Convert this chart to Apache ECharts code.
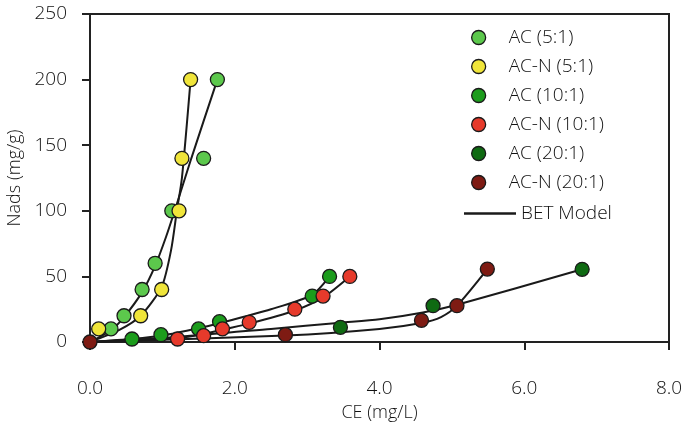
<!DOCTYPE html>
<html>
<head>
<meta charset="utf-8">
<script src="https://cdn.jsdelivr.net/npm/echarts@6/dist/echarts.min.js"></script>
<style>html,body{margin:0;padding:0;background:#fff}#c{width:685px;height:422px}</style>
</head>
<body>
<div id="c"></div>
<script>
// Measured points [CE (mg/L), Nads (mg/g)]
const ac5 = [[0.29,10],[0.47,20],[0.72,40],[0.90,60],[1.13,100],[1.57,140],[1.76,200]];
const acn5 = [[0.12,10],[0.70,20],[0.99,40],[1.23,100],[1.27,140],[1.39,200]];
const ac10 = [[0.58,2.3],[0.98,5.6],[1.50,10],[1.79,15.5],[3.07,35],[3.31,50]];
const acn10 = [[1.21,2.3],[1.57,4.8],[1.83,10],[2.20,15],[2.83,25],[3.22,35],[3.59,50]];
const ac20 = [[3.46,11.2],[4.74,27.7],[6.80,55.4]];
const acn20 = [[0,0],[2.70,5.6],[4.58,16.5],[5.07,27.7],[5.49,55.6]];

// BET model curves
const betAc5 = [[0,0],[0.29,9],[0.47,19],[0.72,38],[0.90,58],[1.05,80],[1.17,100],[1.40,140],[1.76,200]];
const betAcn5 = [[0,0],[0.40,9],[0.70,20],[0.99,42],[1.12,70],[1.20,100],[1.27,125],[1.39,200]];
const betAc10 = [[0,0],[0.60,2.5],[1.00,5],[1.50,10.5],[1.80,14.5],[2.50,25],[3.07,36],[3.31,50]];
const betAcn10 = [[0,0],[1.21,3],[1.57,6],[1.83,9.5],[2.20,14],[2.83,24],[3.22,34],[3.59,50]];
const betAc20 = [[0,0],[1.24,4],[2.50,10],[3.46,14.7],[4.00,17.3],[4.60,22.5],[5.06,28.2],[6.80,55.4]];
const betAcn20 = [[0,0],[2.70,5],[4.00,10],[4.58,14.5],[4.85,19],[5.07,27.7],[5.49,55.6]];

const names = ['AC (5:1)','AC-N (5:1)','AC (10:1)','AC-N (10:1)','AC (20:1)','AC-N (20:1)'];
const colors = ['#5cc84c','#f0e53a','#1c9c1c','#e63a2b','#0f6a12','#7e1b13'];
const pts = [ac5, acn5, ac10, acn10, ac20, acn20];
const bets = [betAc5, betAcn5, betAc10, betAcn10, betAc20, betAcn20];

const FONT = 'Open Sans';
const FW = 300;
const TXT = '#111';
const series = [];
bets.forEach(b => series.push({
  name: 'BET Model', type: 'line', data: b, smooth: 0.25, symbol: 'none', showSymbol: false,
  lineStyle: {color: '#1a1a1a', width: 2}, itemStyle: {color: '#1a1a1a'}, z: 2, silent: true
}));
pts.forEach((p, i) => series.push({
  name: names[i], type: 'scatter', data: p, symbol: 'circle', symbolSize: 14,
  itemStyle: {color: colors[i], borderColor: '#1a1a1a', borderWidth: 1.3, opacity: 1}, z: 5
}));

const chart = echarts.init(document.getElementById('c'));
chart.setOption({
  animation: false,
  backgroundColor: '#fff',
  grid: {left: 90, right: 16, top: 14, bottom: 80, containLabel: false, outerBoundsMode: 'none',
         show: true, borderColor: '#222', borderWidth: 2, backgroundColor: 'transparent'},
  xAxis: {
    type: 'value', min: 0, max: 8, interval: 2,
    name: 'CE (mg/L)', nameLocation: 'middle', nameGap: 62,
    nameTextStyle: {fontFamily: FONT, fontWeight: FW, fontSize: 18, color: TXT},
    axisLine: {show: true, lineStyle: {color: '#222', width: 2}},
    axisTick: {show: true, inside: false, length: 8, lineStyle: {color: '#222', width: 2}},
    axisLabel: {margin: 37, fontFamily: FONT, fontWeight: FW, fontSize: 19, color: TXT, formatter: v => v.toFixed(1)},
    splitLine: {show: false}
  },
  yAxis: {
    type: 'value', min: 0, max: 250, interval: 50,
    name: 'Nads (mg/g)', nameLocation: 'middle', nameGap: 66,
    nameTextStyle: {fontFamily: FONT, fontWeight: FW, fontSize: 18, color: TXT},
    axisLine: {show: true, lineStyle: {color: '#222', width: 2}},
    axisTick: {show: true, inside: false, length: 8, lineStyle: {color: '#222', width: 2}},
    axisLabel: {margin: 23, fontFamily: FONT, fontWeight: FW, fontSize: 19, color: TXT},
    splitLine: {show: false}
  },
  legend: [{
    orient: 'vertical', left: 466, top: 23, itemWidth: 40, itemHeight: 14, itemGap: 10,
    data: names.map(n => ({name: n, icon: 'circle'})),
    textStyle: {fontFamily: FONT, fontWeight: FW, fontSize: 19, color: TXT, padding: [0,0,0,5]},
    itemStyle: {borderColor: '#1a1a1a', borderWidth: 1.3}
  }, {
    orient: 'vertical', left: 459, top: 199, itemWidth: 52, itemHeight: 2.5,
    data: [{name: 'BET Model', icon: 'path://M0,0L52,0L52,2.5L0,2.5Z'}],
    itemStyle: {color: '#1a1a1a'},
    textStyle: {fontFamily: FONT, fontWeight: FW, fontSize: 19, color: TXT}
  }],
  series: series
});
</script>
</body>
</html>
